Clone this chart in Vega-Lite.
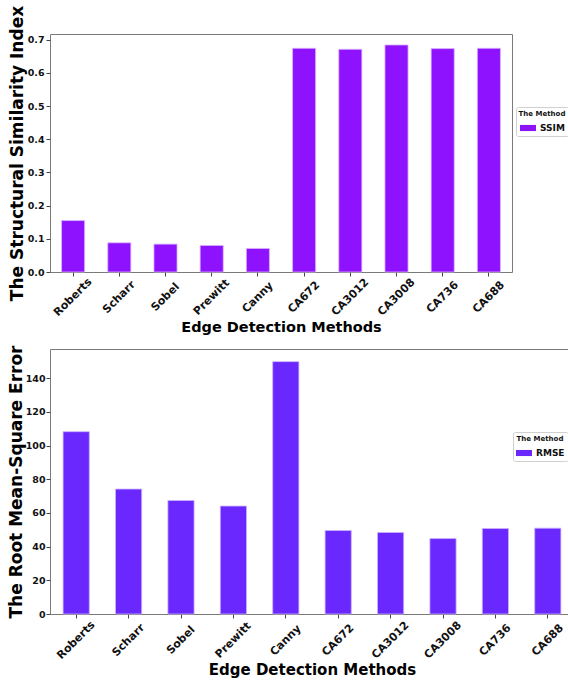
{
  "$schema": "https://vega.github.io/schema/vega-lite/v6.json",
  "background": "white",
  "padding": {"left": 6, "top": 4, "right": 0, "bottom": 5},
  "bounds": "flush",
  "spacing": 77,
  "resolve": {"scale": {"color": "independent"}, "legend": {"color": "independent"}},
  "config": {
    "font": "DejaVu Sans",
    "view": {"stroke": "#7a7a7a", "strokeWidth": 1},
    "axis": {
      "domain": false,
      "grid": false,
      "tickColor": "#444",
      "tickSize": 4,
      "labelFont": "DejaVu Sans",
      "labelFontWeight": "bold",
      "labelColor": "#111",
      "titleFont": "DejaVu Sans",
      "titleFontWeight": "bold",
      "titleColor": "#000"
    },
    "legend": {
      "titleFont": "DejaVu Sans",
      "labelFont": "DejaVu Sans"
    }
  },
  "datasets": {
    "ssim": [
      {"method": "Roberts", "metric": "SSIM", "value": 0.155},
      {"method": "Scharr", "metric": "SSIM", "value": 0.088},
      {"method": "Sobel", "metric": "SSIM", "value": 0.084},
      {"method": "Prewitt", "metric": "SSIM", "value": 0.080},
      {"method": "Canny", "metric": "SSIM", "value": 0.071},
      {"method": "CA672", "metric": "SSIM", "value": 0.674},
      {"method": "CA3012", "metric": "SSIM", "value": 0.671},
      {"method": "CA3008", "metric": "SSIM", "value": 0.684},
      {"method": "CA736", "metric": "SSIM", "value": 0.673},
      {"method": "CA688", "metric": "SSIM", "value": 0.674}
    ],
    "rmse": [
      {"method": "Roberts", "metric": "RMSE", "value": 108.3},
      {"method": "Scharr", "metric": "RMSE", "value": 74.2},
      {"method": "Sobel", "metric": "RMSE", "value": 67.4},
      {"method": "Prewitt", "metric": "RMSE", "value": 64.1},
      {"method": "Canny", "metric": "RMSE", "value": 149.9},
      {"method": "CA672", "metric": "RMSE", "value": 49.6},
      {"method": "CA3012", "metric": "RMSE", "value": 48.4},
      {"method": "CA3008", "metric": "RMSE", "value": 44.8},
      {"method": "CA736", "metric": "RMSE", "value": 50.8},
      {"method": "CA688", "metric": "RMSE", "value": 51.0}
    ]
  },
  "vconcat": [
    {
      "width": 462,
      "height": 238,
      "data": {"name": "ssim"},
      "mark": {"type": "bar", "stroke": "#d9b8ff", "strokeWidth": 0.8},
      "encoding": {
        "x": {
          "field": "method",
          "type": "nominal",
          "sort": ["Roberts", "Scharr", "Sobel", "Prewitt", "Canny", "CA672", "CA3012", "CA3008", "CA736", "CA688"],
          "scale": {"paddingInner": 0.5, "paddingOuter": 0.25},
          "axis": {
            "title": "Edge Detection Methods",
            "titleFontSize": 14.5,
            "titlePadding": 3,
            "labelAngle": -45,
            "labelAlign": "center",
            "labelBaseline": "middle",
            "labelFontSize": 11,
            "labelPadding": 21
          }
        },
        "y": {
          "field": "value",
          "type": "quantitative",
          "scale": {"domain": [0, 0.717], "nice": false},
          "axis": {
            "title": "The Structural Similarity Index",
            "titleFontSize": 17,
            "titlePadding": 1,
            "values": [0, 0.1, 0.2, 0.3, 0.4, 0.5, 0.6, 0.7],
            "format": ".1f",
            "labelFontSize": 9.5,
            "labelPadding": 2
          }
        },
        "color": {
          "field": "metric",
          "type": "nominal",
          "scale": {"range": ["#8f12fe"]},
          "legend": {
            "title": "The Method",
            "orient": "none",
            "legendX": 466,
            "legendY": 73,
            "titleFontSize": 7,
            "titleFontWeight": "bold",
            "titleColor": "#111",
            "titleAnchor": "middle",
            "labelFontSize": 9,
            "labelFontWeight": "bold",
            "labelColor": "#111",
            "symbolType": "M-1,-0.38L1,-0.38L1,0.38L-1,0.38Z",
            "symbolSize": 256,
            "symbolStrokeWidth": 0,
            "strokeColor": "#d0d0d0",
            "fillColor": "white",
            "cornerRadius": 2,
            "padding": 3,
            "titlePadding": 3,
            "labelOffset": 4
          }
        }
      }
    },
    {
      "width": 524,
      "height": 265,
      "data": {"name": "rmse"},
      "mark": {"type": "bar", "stroke": "#c9b3ff", "strokeWidth": 0.8},
      "encoding": {
        "x": {
          "field": "method",
          "type": "nominal",
          "sort": ["Roberts", "Scharr", "Sobel", "Prewitt", "Canny", "CA672", "CA3012", "CA3008", "CA736", "CA688"],
          "scale": {"paddingInner": 0.5, "paddingOuter": 0.25},
          "axis": {
            "title": "Edge Detection Methods",
            "titleFontSize": 15,
            "titlePadding": 2,
            "labelAngle": -45,
            "labelAlign": "center",
            "labelBaseline": "middle",
            "labelFontSize": 11,
            "labelPadding": 22
          }
        },
        "y": {
          "field": "value",
          "type": "quantitative",
          "scale": {"domain": [0, 157.4], "nice": false},
          "axis": {
            "title": "The Root Mean-Square Error",
            "titleFontSize": 17,
            "titlePadding": 0,
            "values": [0, 20, 40, 60, 80, 100, 120, 140],
            "labelFontSize": 9.5,
            "labelPadding": 1
          }
        },
        "color": {
          "field": "metric",
          "type": "nominal",
          "scale": {"range": ["#6a28fe"]},
          "legend": {
            "title": "The Method",
            "orient": "none",
            "legendX": 463,
            "legendY": 83,
            "titleFontSize": 7,
            "titleFontWeight": "bold",
            "titleColor": "#111",
            "titleAnchor": "middle",
            "labelFontSize": 9,
            "labelFontWeight": "bold",
            "labelColor": "#111",
            "symbolType": "M-1,-0.38L1,-0.38L1,0.38L-1,0.38Z",
            "symbolSize": 256,
            "symbolStrokeWidth": 0,
            "strokeColor": "#d0d0d0",
            "fillColor": "white",
            "cornerRadius": 2,
            "padding": 3,
            "titlePadding": 3,
            "labelOffset": 4
          }
        }
      }
    }
  ]
}
